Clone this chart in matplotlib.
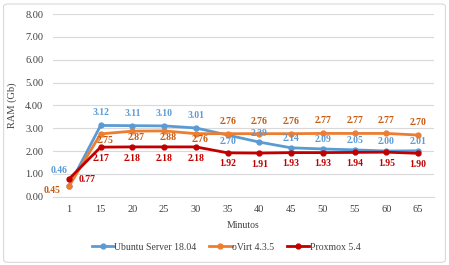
import numpy as np
import matplotlib.pyplot as plt
from matplotlib.patches import FancyBboxPatch

minutos = ["1", "15", "20", "25", "30", "35", "40", "45", "50", "55", "60", "65"]
ubuntu = [0.46, 3.12, 3.11, 3.10, 3.01, 2.70, 2.39, 2.14, 2.09, 2.05, 2.00, 2.01]
ovirt = [0.45, 2.75, 2.87, 2.88, 2.76, 2.76, 2.76, 2.76, 2.77, 2.77, 2.77, 2.70]
proxmox = [0.77, 2.17, 2.18, 2.18, 2.18, 1.92, 1.91, 1.93, 1.93, 1.94, 1.95, 1.90]

plt.rcParams['font.family'] = ['Liberation Serif', 'DejaVu Serif']

fig = plt.figure(figsize=(4.49, 2.65), dpi=100)
ax = fig.add_axes([53 / 449, 1 - 196.7 / 265, 381 / 449, 182.7 / 265])

# borde del grafico
fig.patches.append(FancyBboxPatch((0.008, 0.01), 0.984, 0.975, boxstyle="round,pad=0,rounding_size=0.01",
                                  transform=fig.transFigure, fill=False, edgecolor='#D9D9D9', linewidth=0.8))

x = np.arange(len(minutos))
c_ub, c_ov, c_px = '#5B9BD5', '#ED7D31', '#C00000'
ax.plot(x, ubuntu, color=c_ub, lw=2.0, marker='o', ms=3.5, label='Ubuntu Server 18.04', zorder=3)
ax.plot(x, ovirt, color=c_ov, lw=2.0, marker='o', ms=3.5, label='oVirt 4.3.5', zorder=3)
ax.plot(x, proxmox, color=c_px, lw=2.0, marker='o', ms=3.5, label='Proxmox 5.4', zorder=4)

fs = 7
def lab(i, v, color, dx, dy, ha='center'):
    ax.annotate(f"{v:.2f}", (i, v), xytext=(dx, dy), textcoords='offset points',
                ha=ha, va='center', fontsize=fs, fontweight='bold', color=color, zorder=5)

# etiquetas Ubuntu
for i, v in enumerate(ubuntu):
    if i == 0:
        lab(i, v, '#5B9BD5', -7, 11)
    elif i == 5:
        lab(i, v, '#5B9BD5', 0, -5)
    elif i <= 4:
        lab(i, v, '#5B9BD5', 0, 9)
    else:
        lab(i, v, '#5B9BD5', 0, 6.5)
# etiquetas oVirt
for i, v in enumerate(ovirt):
    if i == 0:
        lab(i, v, '#C55A11', -12, -3)
    elif i <= 4:
        lab(i, v, '#C55A11', 3, -4.5)
    else:
        lab(i, v, '#C55A11', 0, 9)
# etiquetas Proxmox
for i, v in enumerate(proxmox):
    if i == 0:
        lab(i, v, '#C00000', 13, 0)
    else:
        lab(i, v, '#C00000', 0, -8)

ax.set_xlim(-0.5, len(minutos) - 0.5)
ax.set_ylim(0, 8)
ax.set_yticks(np.arange(0, 9, 1))
ax.set_yticklabels([f"{t:.2f}" for t in range(9)])
ax.set_xticks(x)
ax.set_xticklabels(minutos)
ax.tick_params(length=0, labelsize=7.5, colors='#404040', pad=6)
ax.tick_params(axis='y', pad=7)
ax.grid(axis='y', color='#D9D9D9', lw=0.8)
ax.set_axisbelow(True)
for s in ['top', 'right', 'left']:
    ax.spines[s].set_visible(False)
ax.spines['bottom'].set_color('#D9D9D9')

ax.set_ylabel('RAM (Gb)', fontsize=7.5, color='#404040', labelpad=6)
ax.set_xlabel('Minutos', fontsize=7, color='#404040', labelpad=5)

fig.legend(loc='center', bbox_to_anchor=(226 / 449, 1 - 247 / 265), ncol=3, frameon=False,
           fontsize=7, handlelength=2.3, columnspacing=1.3, handletextpad=0.05, labelcolor='#404040')

fig.savefig('out.png', dpi=100)
